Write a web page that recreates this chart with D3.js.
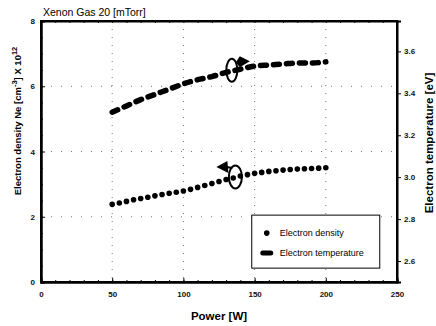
<!DOCTYPE html>
<html>
<head>
<meta charset="utf-8">
<script src="https://cdn.jsdelivr.net/npm/d3@7"></script>
<style>
  body { margin: 0; background: #fff; }
  text { font-family: "Liberation Sans", Arial, sans-serif; }
</style>
</head>
<body>
<div id="chart"></div>
<script>
// data
const power = [50, 55, 60, 65, 70, 75, 80, 85, 90, 95, 100, 105, 110, 115, 120, 125,
  130, 135, 140, 145, 150, 155, 160, 165, 170, 175, 180, 185, 190, 195, 200];
const density = [2.38, 2.42, 2.47, 2.52, 2.56, 2.60, 2.64, 2.68, 2.72, 2.75, 2.79, 2.84,
  2.90, 2.96, 3.02, 3.08, 3.14, 3.19, 3.25, 3.29, 3.33, 3.36, 3.39, 3.41, 3.43, 3.45,
  3.46, 3.47, 3.48, 3.49, 3.50];
const tempPower = [50, 60, 70, 80, 90, 100, 110, 120, 130, 140, 150, 160, 170, 180, 190, 200];
const temperature = [3.31, 3.34, 3.37, 3.395, 3.42, 3.445, 3.465, 3.48, 3.50, 3.515,
  3.53, 3.535, 3.54, 3.545, 3.545, 3.55];
const xTicks = [0, 50, 100, 150, 200, 250];
const yLeftTicks = [0, 2, 4, 6, 8];
const yRightTicks = [2.6, 2.8, 3.0, 3.2, 3.4, 3.6];
const legendLabels = ["Electron density", "Electron temperature"];

const W = 436, H = 326;
const margin = { top: 21, right: 39, bottom: 44, left: 41 };
const width = W - margin.left - margin.right,
  height = H - margin.top - margin.bottom;

const svg = d3.select("#chart").append("svg")
  .attr("width", W).attr("height", H);
const g = svg.append("g")
  .attr("transform", "translate(" + margin.left + "," + margin.top + ")");

const x = d3.scaleLinear().domain([0, 250]).range([0, width]);
const y = d3.scaleLinear().domain([0, 8]).range([height, 0]);
const y2 = d3.scaleLinear().domain([2.5, 3.745]).range([height, 0]);

// sparse dotted grid
g.append("g").selectAll("line").data([50, 100, 150, 200]).join("line")
  .attr("x1", d => x(d)).attr("x2", d => x(d))
  .attr("y1", 0).attr("y2", height)
  .attr("stroke", "#777").attr("stroke-dasharray", "1,7");
g.append("g").selectAll("line").data([2, 4, 6]).join("line")
  .attr("y1", d => y(d)).attr("y2", d => y(d))
  .attr("x1", 0).attr("x2", width)
  .attr("stroke", "#777").attr("stroke-dasharray", "1,9");

// axes
const fmt = d3.format(".1f");
g.append("g").attr("transform", "translate(0," + height + ")")
  .call(d3.axisBottom(x).tickValues(xTicks).tickSize(-4).tickPadding(9));
g.append("g").attr("transform", "translate(0," + height + ")")
  .call(d3.axisBottom(x).tickValues(d3.range(0, 251, 10)).tickSize(-2).tickFormat(""));
g.append("g")
  .call(d3.axisTop(x).tickValues(d3.range(0, 251, 10)).tickSize(-2).tickFormat(""));
g.append("g")
  .call(d3.axisLeft(y).tickValues(yLeftTicks).tickSize(-4).tickPadding(6));
g.append("g")
  .call(d3.axisLeft(y).tickValues(d3.range(0, 8.01, 0.5)).tickSize(-2).tickFormat(""));
g.append("g").attr("transform", "translate(" + width + ",0)")
  .call(d3.axisRight(y2).tickValues(yRightTicks).tickFormat(fmt).tickSize(4).tickPadding(3));

g.selectAll(".domain").attr("stroke", "#000").attr("stroke-width", 2);
g.selectAll(".tick line").attr("stroke", "#000");
g.selectAll(".tick text").attr("font-size", 8).attr("font-weight", "bold")
  .attr("fill", "#111");

// frame
g.append("rect").attr("width", width).attr("height", height)
  .attr("fill", "none").attr("stroke", "#000").attr("stroke-width", 2);

// electron temperature: thick dashed line
const line = d3.line().curve(d3.curveMonotoneX)
  .x((d, i) => x(tempPower[i])).y(d => y2(d));
g.append("path").datum(temperature)
  .attr("d", line)
  .attr("fill", "none").attr("stroke", "#000")
  .attr("stroke-width", 5.5).attr("stroke-linecap", "round")
  .attr("stroke-dasharray", "6,7");

// electron density: dots
g.append("g").selectAll("circle").data(density).join("circle")
  .attr("cx", (d, i) => x(power[i])).attr("cy", d => y(d))
  .attr("r", 2.8).attr("fill", "#000");

// annotation ellipses with arrows
const tx = x(134), ty = y2(3.51);
g.append("ellipse").attr("cx", tx).attr("cy", ty).attr("rx", 5.5).attr("ry", 11.5)
  .attr("fill", "none").attr("stroke", "#000").attr("stroke-width", 2);
g.append("path")
  .attr("d", "M" + (tx + 4) + "," + (ty - 8) + "L" + (tx + 8) + "," + (ty - 14) +
    "L" + (tx + 18) + "," + (ty - 9) + "L" + (tx + 8) + "," + (ty - 3) + "Z")
  .attr("fill", "#000");

const dx = x(136.5), dy = y(3.22);
g.append("ellipse").attr("cx", dx).attr("cy", dy).attr("rx", 6.5).attr("ry", 11.5)
  .attr("fill", "none").attr("stroke", "#000").attr("stroke-width", 2);
g.append("path")
  .attr("d", "M" + (dx - 19) + "," + (dy - 10) + "L" + (dx - 8) + "," + (dy - 16) +
    "L" + (dx - 7) + "," + (dy - 4) + "Z")
  .attr("fill", "#000");
g.append("line").attr("x1", dx - 9).attr("y1", dy - 10).attr("x2", dx - 3).attr("y2", dy - 9)
  .attr("stroke", "#000").attr("stroke-width", 2);

// legend
const lg = g.append("g").attr("transform", "translate(" + x(148) + "," + y(2.05) + ")");
lg.append("rect").attr("width", 128).attr("height", 53)
  .attr("fill", "#fff").attr("stroke", "#000").attr("stroke-width", 1);
lg.append("circle").attr("cx", 15).attr("cy", 18).attr("r", 2.8).attr("fill", "#000");
lg.append("line").attr("x1", 11).attr("x2", 19).attr("y1", 38).attr("y2", 38)
  .attr("stroke", "#000").attr("stroke-width", 5).attr("stroke-linecap", "round");
lg.selectAll("text").data(legendLabels).join("text")
  .attr("x", 28).attr("y", (d, i) => 21 + i * 20)
  .attr("font-size", 9).text(d => d);

// titles
svg.append("text").attr("x", 43).attr("y", 15.5).attr("font-size", 10.5)
  .text("Xenon Gas 20 [mTorr]");
svg.append("text").attr("x", 219).attr("y", 320)
  .attr("text-anchor", "middle").attr("font-size", 11.5).attr("font-weight", "bold")
  .text("Power [W]");

const yl = svg.append("text")
  .attr("transform", "translate(21,121) rotate(-90)")
  .attr("text-anchor", "middle").attr("font-size", 9.5).attr("font-weight", "bold");
yl.append("tspan").text("Electron density  Ne [cm");
yl.append("tspan").attr("dy", -4).attr("font-size", 7.5).text("-3");
yl.append("tspan").attr("dy", 4).text("] X 10");
yl.append("tspan").attr("dy", -4).attr("font-size", 7.5).text("12");

svg.append("text")
  .attr("transform", "translate(433,143) rotate(-90)")
  .attr("text-anchor", "middle").attr("font-size", 11.5).attr("font-weight", "bold")
  .text("Electron temperature [eV]");
</script>
</body>
</html>
